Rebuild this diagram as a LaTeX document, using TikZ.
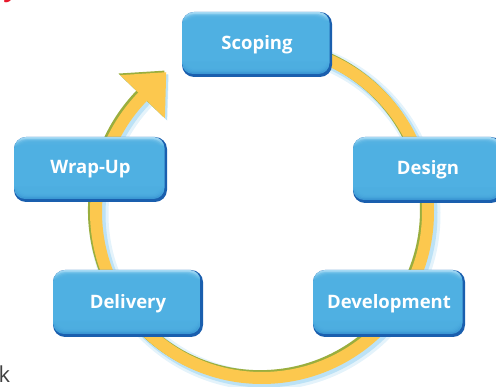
\documentclass[tikz,border=0pt]{standalone}
\usepackage{fontspec}
\setmainfont{Open Sans}
\usetikzlibrary{calc}
\definecolor{bdark}{HTML}{1A5FAE}
\definecolor{btop}{HTML}{A6DAF4}
\definecolor{bmain}{HTML}{4FB0E2}
\definecolor{bmidlow}{HTML}{3590D0}
\definecolor{ringyellow}{HTML}{FCC84E}
\definecolor{ringgreen}{HTML}{9AAE3E}
\definecolor{glowA}{HTML}{E4F3FB}
\definecolor{glowB}{HTML}{BCE2F6}
\definecolor{titlered}{HTML}{E8192C}
\pgfdeclareverticalshading{boxmid}{100bp}{color(0bp)=(bmidlow); color(25bp)=(bmidlow); color(38bp)=(bmain); color(68bp)=(bmain); color(75bp)=(btop); color(100bp)=(btop)}
\newcommand\ringlayer[4]{%
  \begin{scope}[shift={(#1,#2)}]
    \draw[#3, line width=#4] (262,175) ++(95:166) arc[start angle=95, end angle=-225, radius=166];
    \fill[#3] (120.29,311.85) -- (164.89,268.78) -- (166.21,314.77) -- cycle;
  \end{scope}}
\tikzset{
  stepbox/.style={rounded corners=12pt, minimum width=150pt, minimum height=66pt,
    inner sep=0pt, fill=bdark, text=white,
    font=\bfseries\fontsize{18.5}{20}\selectfont,
    path picture={
      \shade[shading=boxmid, rounded corners=11pt]
        ([yshift=3pt]path picture bounding box.south west) rectangle
        ([xshift=-2.5pt]path picture bounding box.north east);
      \foreach \k in {0,1,2,3}{
        \fill[bmain, opacity=0.4, rounded corners=10pt]
          ([shift={(2+\k,4.5+\k)}]path picture bounding box.south west) rectangle
          ([shift={(-4.5-\k,-2-\k)}]path picture bounding box.north east);
      }
    }}
}
\begin{document}
\begin{tikzpicture}[x=1pt,y=1pt]
\useasboundingbox (0,0) rectangle (496,387);
\clip (0,0) rectangle (496,387);
% cycle ring with arrow
\ringlayer{2.5}{-2.5}{glowA}{20}
\ringlayer{2}{-2}{glowB}{15}
\ringlayer{-1.8}{1.6}{ringgreen}{12.5}
\ringlayer{0}{0}{ringyellow}{12}
% phase boxes
\node[stepbox, minimum width=150pt, minimum height=65pt] (scoping) at (257,342.5) {Scoping};
\node[stepbox, minimum width=150pt, minimum height=66pt] (design) at (428,217) {Design};
\node[stepbox, minimum width=153pt, minimum height=65pt] (wrapup) at (90.5,217.5) {Wrap-Up};
\node[stepbox, minimum width=150pt, minimum height=67pt] (delivery) at (128,83.5) {Delivery};
\node[stepbox, minimum width=152pt, minimum height=67pt] (development) at (389,83.5) {Development};
% clipped fragments of surrounding text
\node[anchor=base west, inner sep=0pt, text=titlered, font=\bfseries\itshape\fontsize{26}{28}\selectfont] (titlefrag) at (6,390) {y};
\node[anchor=base west, inner sep=0pt, text=black!75, font=\fontsize{22}{24}\selectfont] (kfrag) at (-1.5,4) {k};
\end{tikzpicture}
\end{document}
